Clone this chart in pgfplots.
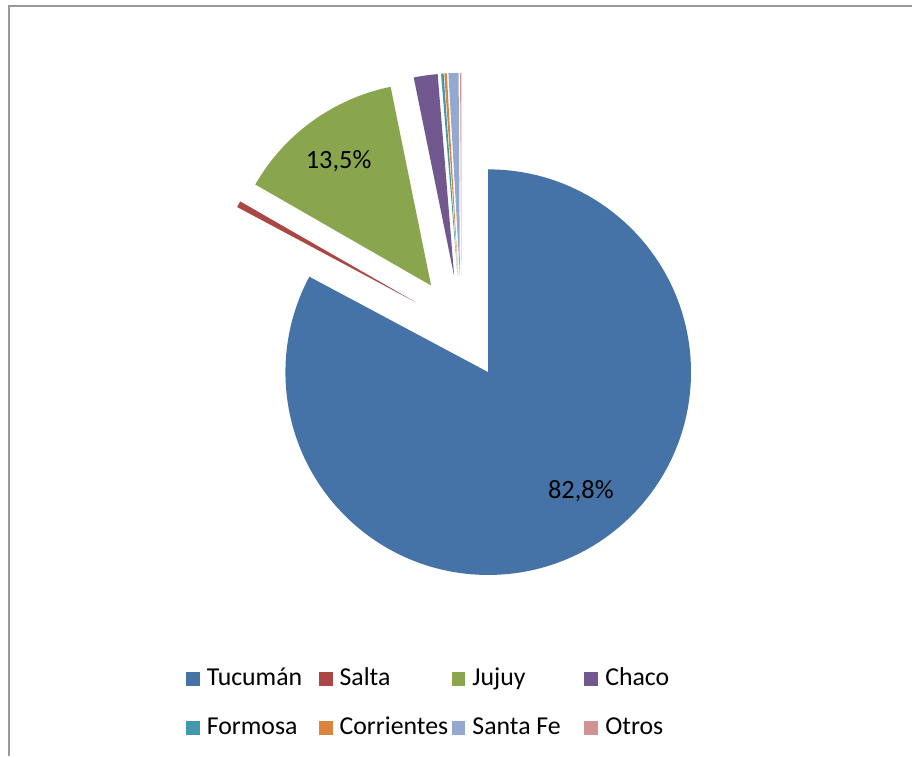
\documentclass[border=0pt]{standalone}
\usepackage{pgfplots}
\usepackage{pgfplotstable}
\pgfplotsset{compat=1.18}
\usepackage{fontspec}
\setmainfont{Carlito}

\definecolor{slice0}{HTML}{4572A7}
\definecolor{slice1}{HTML}{AA4643}
\definecolor{slice2}{HTML}{89A54E}
\definecolor{slice3}{HTML}{71588F}
\definecolor{slice4}{HTML}{4198AF}
\definecolor{slice5}{HTML}{DB843D}
\definecolor{slice6}{HTML}{93A9CF}
\definecolor{slice7}{HTML}{D19392}
\definecolor{framegray}{HTML}{999999}

% share of each province, %
\pgfplotstableread{
name       value
Tucuman    82.8
Salta      0.5
Jujuy      13.5
Chaco      1.9
Formosa    0.2
Corrientes 0.2
SantaFe    0.8
Otros      0.1
}\piedata

\newcommand{\legbox}[1]{\makebox[56pt][l]{#1}}

\begin{document}
\begin{tikzpicture}
\begin{axis}[
    x=0.5pt, y=0.5pt,
    xmin=0, xmax=913, ymin=0, ymax=757,
    hide axis, clip=false,
    legend columns=4,
    legend image code/.code={\fill[#1, draw=none] (0pt,-3.5pt) rectangle (7pt,3.5pt);},
    legend style={
        draw=none, fill=none, inner sep=0pt, outer sep=0pt,
        at={(186/913,53/757)}, anchor=west,
        font=\fontsize{12.9}{16}\selectfont,
        nodes={inner sep=0pt, text height=9.5pt, text depth=2.5pt},
        row sep=12.5pt, column sep=0pt,
        /tikz/every odd column/.append style={column sep=3.5pt},
    },
]
% invisible box = full picture
\path (axis cs:0,0) rectangle (axis cs:913,757);
% chart frame (left and top edges only visible)
\draw[framegray, line width=1pt] (axis cs:9,0) -- (axis cs:9,751) -- (axis cs:913,751);

% exploded pie, centre (462,429), radius 203, explosion 52
\pgfplotsextra{
  \gdef\cum{0}
  \pgfplotstableforeachcolumnelement{value}\of\piedata\as\v{%
    \pgfmathsetmacro\aA{90-3.6*\cum}%
    \pgfmathsetmacro\aB{90-3.6*(\cum+\v)}%
    \pgfmathsetmacro\aM{(\aA+\aB)/2}%
    \pgfmathsetmacro\vx{462+52*cos(\aM)}%
    \pgfmathsetmacro\vy{429+52*sin(\aM)}%
    \edef\col{slice\pgfplotstablerow}%
    \fill[fill=\col] (axis cs:\vx,\vy) -- ++(\aA:101.5pt)
        arc[start angle=\aA, end angle=\aB, radius=101.5pt] -- cycle;
    \pgfmathsetmacro\tmp{\cum+\v}\xdef\cum{\tmp}%
  }
}

\node[font=\fontsize{13.2}{16}\selectfont] at (axis cs:339,596) {13,5\%};
\node[font=\fontsize{13.2}{16}\selectfont] at (axis cs:581.5,265.5) {82,8\%};

\addlegendimage{fill=slice0}\addlegendentry{\legbox{Tucumán}}
\addlegendimage{fill=slice1}\addlegendentry{\legbox{Salta}}
\addlegendimage{fill=slice2}\addlegendentry{\legbox{Jujuy}}
\addlegendimage{fill=slice3}\addlegendentry{\legbox{Chaco}}
\addlegendimage{fill=slice4}\addlegendentry{\legbox{Formosa}}
\addlegendimage{fill=slice5}\addlegendentry{\legbox{Corrientes}}
\addlegendimage{fill=slice6}\addlegendentry{\legbox{Santa Fe}}
\addlegendimage{fill=slice7}\addlegendentry{\legbox{Otros}}
\end{axis}
\end{tikzpicture}
\end{document}
